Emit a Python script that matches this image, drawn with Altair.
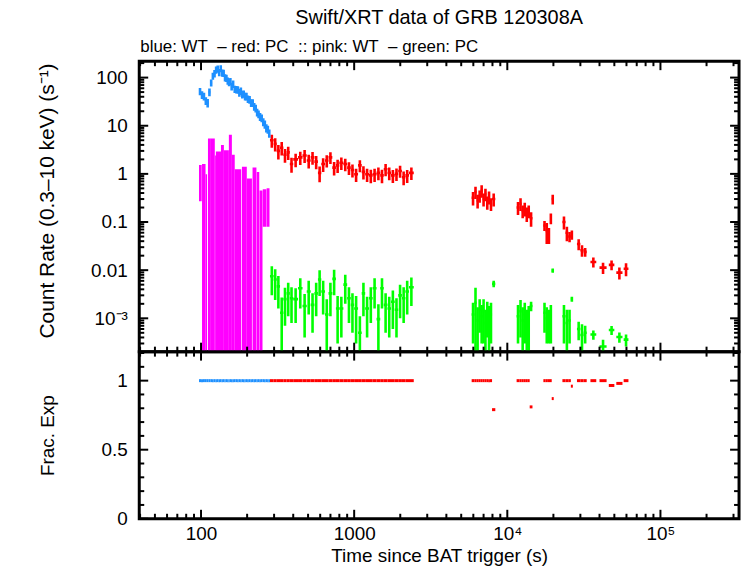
import altair as alt
import pandas as pd

# ---------------- light-curve data ----------------
# WT mode source bins: bin edges (s since trigger), rate and 1-sigma error (count/s)
wt_edges = [97, 100, 103, 106, 109, 112, 115, 118, 121, 124,
            127, 130, 133, 136, 139, 142, 145, 148, 151, 154,
            157, 160, 164, 168, 172, 176, 180, 184, 188, 192,
            196, 200, 205, 210, 215, 220, 225, 230, 235, 240,
            246, 252, 258, 264, 270, 276, 282]
wt_rate = [52, 44, 41, 33, 30, 50, 78, 108, 122, 145,
           152, 128, 155, 126, 124, 100, 98, 86, 80, 84,
           66, 74, 58, 57, 56, 49, 53, 45, 46, 41,
           41, 36, 35, 30, 30, 25, 23, 19, 17.5, 15.5,
           14.5, 12, 10.8, 9.0, 8.4, 7.0]
wt_err = [9, 8, 7.5, 6, 6, 9, 13, 18, 21, 25,
          26, 22, 26, 22, 21, 17, 17, 15, 14, 14.5,
          12, 13, 10, 10, 10, 9, 9.5, 8, 8, 7.5,
          7.5, 6.5, 6.3, 5.5, 5.5, 4.6, 4.2, 3.5, 3.2, 2.9,
          2.7, 2.3, 2.1, 1.8, 1.6, 1.4]

# WT mode low-significance bins (pink)
wtbg_start = [97, 101.5, 107, 111, 116, 123, 125, 135, 141, 152,
              159, 166, 185, 199, 217, 231, 241, 253, 268]
wtbg_stop = [101, 107, 109.5, 116, 123, 125, 135, 141, 152, 159,
             166, 183, 199, 215, 230, 240, 252, 267, 280]
wtbg_rate = [0.9, 0.8, 0.48, 2.7, 2.6, 1.2, 1.45, 2.0, 1.55, 3.25,
             1.25, 0.6, 0.7, 0.4, 0.67, 0.55, 0.22, 0.28, 0.29]
wtbg_err = [0.63, 0.8, 0.5, 2.7, 2.8, 1.2, 1.45, 2.0, 1.55, 3.25,
            1.25, 0.65, 0.7, 0.4, 0.68, 0.55, 0.23, 0.2, 0.21]

# PC mode: one edge list per observing segment
pc_edges = [
    [282, 298, 312, 328, 345, 362, 380, 400, 430, 460,
     490, 520, 550, 580, 610, 645, 680, 720, 760, 800,
     850, 900, 950, 1000, 1060, 1120, 1180, 1250, 1320, 1400,
     1480, 1560, 1650, 1740, 1840, 1940, 2050, 2160, 2280, 2450],
    [5850, 6100, 6300, 6500, 6700, 6900, 7100, 7300, 7500, 7700, 7950, 8350],
    [11500, 12000, 12400, 12800, 13200, 13600, 14000, 14600],
    [17200, 17800, 18400, 19000, 19500, 20100],
    [22900, 24000, 25000, 26000, 26800],
    [28500, 30000, 31500, 33000],
    [34900, 38100],
    [40000, 44500],
    [46000, 50000],
    [51500, 56500],
    [57500, 61800],
]
pc_rate = [
    [5.0, 4.2, 3.0, 3.5, 2.5, 2.8, 1.6, 2.0, 2.2, 2.4,
     1.9, 2.2, 1.8, 1.05, 1.6, 1.9, 2.2, 1.35, 1.5, 1.7,
     1.6, 1.35, 1.2, 0.98, 1.5, 1.1, 0.98, 0.93, 0.98, 1.05,
     0.93, 1.25, 1.05, 0.93, 1.0, 1.15, 0.85, 0.93, 1.05],
    [0.32, 0.42, 0.28, 0.35, 0.45, 0.30, 0.38, 0.26, 0.33, 0.24, 0.30],
    [0.20, 0.24, 0.17, 0.19, 0.15, 0.17, 0.12],
    [0.085, 0.065, 0.055, 0.12, 0.30],
    [0.10, 0.06, 0.05, 0.055],
    [0.035, 0.026, 0.024],
    [0.0148], [0.0113], [0.0129], [0.0089], [0.0107],
]
pc_err = [
    [1.5, 1.3, 1.0, 1.1, 0.8, 0.85, 0.55, 0.62, 0.68, 0.72,
     0.6, 0.66, 0.55, 0.38, 0.5, 0.55, 0.6, 0.42, 0.46, 0.5,
     0.46, 0.4, 0.36, 0.3, 0.42, 0.34, 0.3, 0.29, 0.3, 0.31,
     0.29, 0.36, 0.31, 0.28, 0.29, 0.32, 0.27, 0.28, 0.3],
    [0.10, 0.12, 0.09, 0.10, 0.13, 0.09, 0.11, 0.08, 0.10, 0.07, 0.09],
    [0.06, 0.07, 0.05, 0.06, 0.05, 0.05, 0.04],
    [0.02, 0.03, 0.02, 0.03, 0.07],
    [0.03, 0.02, 0.012, 0.012],
    [0.009, 0.007, 0.005],
    [0.0035], [0.003], [0.003], [0.0025], [0.0032],
]
# PC mode low-significance bins (green), same time bins as above
pcbg_rate = [
    [0.0075, 0.0064, 0.0046, 0.0013, 0.0025, 0.0033, 0.0026, 0.0025, 0.0042, 0.0018,
     0.0036, 0.0019, 0.0033, 0.0064, 0.0036, 0.0012, 0.0033, 0.0066, 0.0016, 0.0016,
     0.0050, 0.0026, 0.0019, 0.0016, 0.0005, 0.0033, 0.0016, 0.0026, 0.0042, 0.00096,
     0.0042, 0.0019, 0.0016, 0.0022, 0.0015, 0.0030, 0.0026, 0.0036, 0.0044],
    [0.0012, 0.0021, 0.0009, 0.0015, 0.0011, 0.0014, 0.0008, 0.0013, 0.0010, 0.0012, 0.0052],
    [0.0011, 0.0014, 0.0009, 0.0012, 0.0008, 0.0010, 0.0018],
    [0.0013, 0.0010, 0.0009, 0.0011, 0.0098],
    [0.0011, 0.0008, 0.0009, 0.0025],
    [0.0006, 0.00045, 0.0005],
    [0.00046], [0.00026], [0.00057], [0.00041], [0.00036],
]
pcbg_err = [
    [0.0045, 0.004, 0.003, 0.0014, 0.0018, 0.0022, 0.0018, 0.0017, 0.0026, 0.0014,
     0.0024, 0.0014, 0.0022, 0.0035, 0.0024, 0.0013, 0.0022, 0.0036, 0.0013, 0.0012,
     0.003, 0.0018, 0.0014, 0.0013, 0.0006, 0.0022, 0.0012, 0.0018, 0.0026, 0.001,
     0.0026, 0.0014, 0.0012, 0.0016, 0.0011, 0.002, 0.0018, 0.0024, 0.0026],
    [0.0009, 0.0022, 0.0008, 0.001, 0.0008, 0.0011, 0.0007, 0.0009, 0.0008, 0.0009, 0.0008],
    [0.0008, 0.001, 0.0008, 0.0009, 0.0007, 0.0008, 0.0004],
    [0.0008, 0.0007, 0.0006, 0.0008, 0.001],
    [0.0008, 0.0007, 0.0006, 0.0003],
    [0.00025, 0.0003, 0.0002],
    [0.0001], [0.0001], [0.00012], [0.0001], [0.0001],
]
# fractional exposure of each PC bin
pc_fracexp = [
    [1.0, 1.0, 1.0, 1.0, 1.0, 1.0, 1.0, 1.0, 1.0, 1.0,
     1.0, 1.0, 1.0, 1.0, 1.0, 1.0, 1.0, 1.0, 1.0, 1.0,
     1.0, 1.0, 1.0, 1.0, 1.0, 1.0, 1.0, 1.0, 1.0, 1.0,
     1.0, 1.0, 1.0, 1.0, 1.0, 1.0, 1.0, 1.0, 1.0],
    [1.0, 1.0, 1.0, 1.0, 1.0, 1.0, 1.0, 1.0, 1.0, 1.0, 0.79],
    [1.0, 1.0, 1.0, 1.0, 1.0, 1.0, 0.81],
    [1.0, 1.0, 1.0, 1.0, 0.87],
    [1.0, 1.0, 1.0, 0.96],
    [1.0, 1.0, 1.0],
    [1.0], [1.0], [0.965], [0.98], [1.0],
]

# ---------------- axis ticks ----------------
X_DOMAIN = [39.5, 3.26e5]
Y_DOMAIN = [2.03e-4, 219]
F_DOMAIN = [0, 1.21]
x_major = [100, 1000, 10000, 100000]
x_minor = [m * 10 ** e for e in range(1, 6) for m in range(2, 10)
           if X_DOMAIN[0] < m * 10 ** e < X_DOMAIN[1]]
y_major = [0.001, 0.01, 0.1, 1, 10, 100]
y_minor = [m * 10.0 ** e for e in range(-4, 3) for m in range(2, 10)
           if Y_DOMAIN[0] < m * 10.0 ** e < Y_DOMAIN[1]]
f_major = [0, 0.5, 1]
f_minor = [0.1, 0.2, 0.3, 0.4, 0.6, 0.7, 0.8, 0.9, 1.1, 1.2]

BLUE, RED, PINK, GREEN = "#1e90ff", "#ff0000", "#ff00ff", "#00ff00"
FONT = "Liberation Sans, Arial, Helvetica, sans-serif"
FS = 19
W, H_TOP, H_BOT = 603, 292, 168
FLOOR = 1e-7  # stands in for error bars that reach zero on the log axis


def make_row(series, lo, hi, rate, err, frac):
    bottom = rate - err
    return {"series": series, "t_lo": lo, "t_hi": hi, "t": (lo * hi) ** 0.5,
            "rate": rate, "lo": bottom if bottom > 0 else FLOOR,
            "hi": rate + err, "frac": frac}


wt_rows = [make_row("WT", lo, hi, r, e, 1.0)
           for lo, hi, r, e in zip(wt_edges[:-1], wt_edges[1:], wt_rate, wt_err)]
pc_rows, bg_rows = [], []
for edges, rates, errs, brates, berrs, fracs in zip(pc_edges, pc_rate, pc_err,
                                                    pcbg_rate, pcbg_err, pc_fracexp):
    for i, (lo, hi) in enumerate(zip(edges[:-1], edges[1:])):
        pc_rows.append(make_row("PC", lo, hi, rates[i], errs[i], fracs[i]))
        bg_rows.append(make_row("PCbg", lo, hi, brates[i], berrs[i], fracs[i]))
wtbg_rows = [make_row("WTbg", lo, hi, r, e, None)
             for lo, hi, r, e in zip(wtbg_start, wtbg_stop, wtbg_rate, wtbg_err)]

points = pd.DataFrame(bg_rows + pc_rows + wt_rows)
pink = pd.DataFrame(wtbg_rows)
frac = pd.DataFrame(wt_rows + pc_rows)

xs = alt.Scale(type="log", domain=X_DOMAIN, nice=False)
ys = alt.Scale(type="log", domain=Y_DOMAIN, nice=False)
fs = alt.Scale(domain=F_DOMAIN, nice=False, zero=False)
color = alt.Color("series:N", legend=None,
                  scale=alt.Scale(domain=["WT", "PC", "PCbg"], range=[BLUE, RED, GREEN]))

# axes: labels and titles only; the tick marks are drawn inside the frame below
rate_axis = alt.Axis(
    values=y_major, labelPadding=12, titleX=-82, titleY=140, titleFontSize=21,
    title="Count Rate (0.3\u201310 keV) (s\u207b\u00b9)",
    labelExpr="datum.value < 0.002 ? '10\u207b\u00b3' : datum.value < 0.02 ? '0.01' : "
              "datum.value < 0.2 ? '0.1' : datum.value < 2 ? '1' : datum.value < 20 ? '10' : '100'")
time_axis = alt.Axis(
    values=x_major, labelPadding=6, title="Time since BAT trigger (s)", titleY=28,
    labelExpr="datum.value < 500 ? '100' : datum.value < 5000 ? '1000' : "
              "datum.value < 50000 ? '10\u2074' : '10\u2075'")
frac_axis = alt.Axis(values=f_major, format=".1~f", labelPadding=12, titleX=-82,
                     title="Frac. Exp")


def edge_ticks(values, length, scale, axis, channel, height):
    base = alt.Chart(pd.DataFrame({"v": values})).mark_rule(color="black", strokeWidth=2)
    if channel == "x":
        enc = alt.X("v:Q", scale=scale, axis=axis)
        return [base.encode(x=enc, y=alt.value(height), y2=alt.value(height - length)),
                base.encode(x=enc, y=alt.value(0), y2=alt.value(length))]
    enc = alt.Y("v:Q", scale=scale, axis=axis)
    return [base.encode(y=enc, x=alt.value(0), x2=alt.value(length)),
            base.encode(y=enc, x=alt.value(W), x2=alt.value(W - length))]


# ---------------- upper panel: count rate ----------------
pink_layer = alt.Chart(pink).mark_rect(color=PINK, clip=True).encode(
    x=alt.X("t_lo:Q", scale=xs, axis=None), x2="t_hi",
    y=alt.Y("lo:Q", scale=ys, axis=rate_axis), y2="hi")
err_v = alt.Chart(points).mark_rule(strokeWidth=2.6, clip=True).encode(
    x=alt.X("t:Q", scale=xs, axis=None),
    y=alt.Y("lo:Q", scale=ys, axis=rate_axis), y2="hi", color=color)
err_h = alt.Chart(points).mark_rule(strokeWidth=2.6, clip=True).encode(
    x=alt.X("t_lo:Q", scale=xs, axis=None), x2="t_hi",
    y=alt.Y("rate:Q", scale=ys, axis=rate_axis), color=color)

legend_text = ("blue: WT\u00a0\u00a0\u2013 red: PC\u00a0\u00a0:: pink: WT\u00a0\u00a0\u2013 green: PC")
legend_line = alt.Chart(pd.DataFrame({"s": [legend_text]})).mark_text(
    align="left", baseline="alphabetic", font=FONT, fontSize=17, color="black"
).encode(x=alt.value(1), y=alt.value(-9), text="s:N")

top = alt.layer(
    pink_layer, err_v, err_h, legend_line,
    *edge_ticks(x_major, 9, xs, None, "x", H_TOP), *edge_ticks(x_minor, 5, xs, None, "x", H_TOP),
    *edge_ticks(y_major, 9, ys, rate_axis, "y", H_TOP),
    *edge_ticks(y_minor, 5, ys, rate_axis, "y", H_TOP),
).properties(
    width=W, height=H_TOP,
    title=alt.Title("Swift/XRT data of GRB 120308A", anchor="middle", frame="group",
                    offset=-6, baseline="alphabetic", fontSize=20))

# ---------------- lower panel: fractional exposure ----------------
frac_layer = alt.Chart(frac).mark_rule(strokeWidth=3).encode(
    x=alt.X("t_lo:Q", scale=xs, axis=time_axis), x2="t_hi",
    y=alt.Y("frac:Q", scale=fs, axis=frac_axis), color=color)

bottom = alt.layer(
    frac_layer,
    *edge_ticks(x_major, 9, xs, time_axis, "x", H_BOT),
    *edge_ticks(x_minor, 5, xs, time_axis, "x", H_BOT),
    *edge_ticks(f_major, 9, fs, frac_axis, "y", H_BOT),
    *edge_ticks(f_minor, 5, fs, frac_axis, "y", H_BOT),
).properties(width=W, height=H_BOT)

# flush bounds: panels are laid out by their plot areas
chart = alt.vconcat(top, bottom, spacing=0, bounds="flush").properties(
    padding={"left": 35, "top": 5, "right": 4, "bottom": 2},
).configure_axis(
    labelFont=FONT, titleFont=FONT, labelFontSize=FS, titleFontSize=FS,
    labelColor="black", titleColor="black", titleFontWeight="normal",
    grid=False, domain=False, ticks=False,
).configure_title(
    font=FONT, fontSize=FS, fontWeight="normal", color="black",
).configure_view(stroke="black", strokeWidth=3)

chart.save("out.html", embed_options={"renderer": "svg", "actions": False})
